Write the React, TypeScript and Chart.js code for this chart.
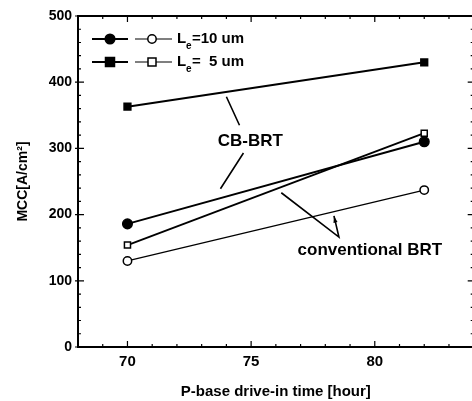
import React, { useEffect, useRef } from "react";
import { Chart, registerables } from "chart.js";

Chart.register(...registerables);

const driveTime = [70, 82];
const cbL10 = [186, 310];
const convL10 = [130, 237];
const cbL5 = [363, 430];
const convL5 = [154, 323];
const xTickValues = [70, 75, 80];
const xTickLabels = ["70", "75", "80"];
const yTickValues = [0, 100, 200, 300, 400, 500];
const yTickLabels = ["0", "100", "200", "300", "400", "500"];
const legendTexts = ["=10 um", "=  5 um"];
const annotationTexts = ["CB-BRT", "conventional BRT"];

const FONT = "'Liberation Sans', Arial, Helvetica, sans-serif";

const pts = (ys: number[]) => driveTime.map((x, i) => ({ x, y: ys[i] }));

const decorPlugin = {
  id: "decor",
  afterDraw(chart: any) {
    const ctx = chart.ctx;
    const { left, right, top, bottom } = chart.chartArea;
    const xs = chart.scales.x;
    const ys = chart.scales.y;
    const X = (v: number) => xs.getPixelForValue(v);
    const Y = (v: number) => ys.getPixelForValue(v);
    ctx.save();
    ctx.strokeStyle = "#000";
    ctx.fillStyle = "#000";
    // frame
    ctx.lineWidth = 2;
    ctx.strokeRect(left, top, right - left, bottom - top);
    // ticks
    ctx.lineWidth = 1.2;
    ctx.beginPath();
    for (let v = 68; v <= 84; v += 1) {
      const px = X(v);
      const major = v % 5 === 0;
      const len = major ? 6 : 3;
      ctx.moveTo(px, bottom);
      ctx.lineTo(px, bottom - len);
      ctx.moveTo(px, top);
      ctx.lineTo(px, top + len);
    }
    for (let v = 0; v <= 500; v += 20) {
      const py = Y(v);
      const major = v % 100 === 0;
      if (major) {
        ctx.moveTo(left - 3, py);
        ctx.lineTo(left + 6, py);
        ctx.moveTo(right, py);
        ctx.lineTo(right - 6, py);
      } else {
        ctx.moveTo(left, py);
        ctx.lineTo(left + 3, py);
        ctx.moveTo(right, py);
        ctx.lineTo(right - 3, py);
      }
    }
    ctx.stroke();

    // legend
    const rows = [
      { y: top + 23, filledShape: "circle" },
      { y: top + 46, filledShape: "square" },
    ];
    rows.forEach((r, i) => {
      const x0 = left + 14;
      ctx.lineWidth = 2;
      ctx.beginPath();
      ctx.moveTo(x0, r.y);
      ctx.lineTo(x0 + 36, r.y);
      ctx.stroke();
      drawMarker(ctx, r.filledShape, x0 + 18, r.y, true);
      const x1 = x0 + 43;
      ctx.lineWidth = 1.2;
      ctx.beginPath();
      ctx.moveTo(x1, r.y);
      ctx.lineTo(x1 + 37, r.y);
      ctx.stroke();
      drawMarker(ctx, r.filledShape, x1 + 17, r.y, false);
      ctx.fillStyle = "#000";
      ctx.textBaseline = "middle";
      ctx.textAlign = "left";
      ctx.font = `bold 15px ${FONT}`;
      const tx = x1 + 42;
      ctx.fillText("L", tx, r.y);
      ctx.font = `bold 10px ${FONT}`;
      ctx.fillText("e", tx + 9, r.y + 7);
      ctx.font = `bold 15px ${FONT}`;
      ctx.fillText(legendTexts[i], tx + 15, r.y);
    });

    // annotations
    ctx.font = `bold 17px ${FONT}`;
    ctx.textAlign = "center";
    ctx.textBaseline = "middle";
    ctx.fillText(annotationTexts[0], X(74.97), Y(311));
    ctx.fillText(annotationTexts[1], X(79.8), Y(146.5));
    ctx.lineWidth = 1.6;
    ctx.beginPath();
    ctx.moveTo(X(74.0), Y(378));
    ctx.lineTo(X(74.53), Y(335));
    ctx.moveTo(X(74.69), Y(293));
    ctx.lineTo(X(73.76), Y(239));
    ctx.moveTo(X(76.22), Y(233));
    ctx.lineTo(X(78.55), Y(166));
    ctx.lineTo(X(78.35), Y(198));
    ctx.stroke();
    const tipX = X(78.35), tipY = Y(198);
    const bx = X(78.55), by = Y(166);
    const ang = Math.atan2(tipY - by, tipX - bx);
    ctx.beginPath();
    ctx.moveTo(tipX, tipY);
    ctx.lineTo(tipX - 7 * Math.cos(ang - 0.3), tipY - 7 * Math.sin(ang - 0.3));
    ctx.lineTo(tipX - 7 * Math.cos(ang + 0.3), tipY - 7 * Math.sin(ang + 0.3));
    ctx.closePath();
    ctx.fill();
    ctx.restore();
  },
};

function drawMarker(ctx: CanvasRenderingContext2D, shape: string, x: number, y: number, filled: boolean) {
  ctx.save();
  ctx.lineWidth = 1.5;
  ctx.strokeStyle = "#000";
  ctx.fillStyle = filled ? "#000" : "#fff";
  ctx.beginPath();
  if (shape === "circle") {
    ctx.arc(x, y, filled ? 4.8 : 4.2, 0, Math.PI * 2);
  } else {
    const s = filled ? 4.5 : 4;
    ctx.rect(x - s, y - s, 2 * s, 2 * s);
  }
  ctx.fill();
  ctx.stroke();
  ctx.restore();
}

export default function App() {
  const ref = useRef<HTMLCanvasElement>(null);
  useEffect(() => {
    if (!ref.current) return;
    const ds = (label: string, ys: number[], style: string, filled: boolean, lw: number, r: number) => ({
      label,
      data: pts(ys),
      borderColor: "#000",
      backgroundColor: filled ? "#000" : "#fff",
      pointBackgroundColor: filled ? "#000" : "#fff",
      pointBorderColor: "#000",
      pointBorderWidth: 1.5,
      pointStyle: style,
      pointRadius: r,
      borderWidth: lw,
      showLine: true,
      fill: false,
    });
    const chart = new Chart(ref.current, {
      type: "line",
      data: {
        datasets: [
          ds("CB-BRT Le=10 um", cbL10, "circle", true, 2, 4.8),
          ds("conventional BRT Le=10 um", convL10, "circle", false, 1.2, 4.2),
          ds("CB-BRT Le=5 um", cbL5, "rect", true, 2, 4.8),
          ds("conventional BRT Le=5 um", convL5, "rect", false, 1.8, 4.3),
        ],
      },
      options: {
        animation: false,
        responsive: false,
        devicePixelRatio: 1,
        layout: { padding: { left: 15, top: 16, right: 4, bottom: 0 } },
        plugins: { legend: { display: false }, tooltip: { enabled: false } },
        scales: {
          x: {
            type: "linear",
            min: 68,
            max: 84,
            afterBuildTicks: (s: any) => {
              s.ticks = xTickValues.map((v) => ({ value: v }));
            },
            afterFit: (s: any) => {
              s.height = 54;
            },
            ticks: {
              padding: 6,
              color: "#000",
              font: { family: FONT, size: 15, weight: "bold" },
              callback: (v: any) => {
                const i = xTickValues.indexOf(Number(v));
                return i >= 0 ? xTickLabels[i] : "";
              },
            },
            grid: { display: false, drawTicks: false },
            border: { display: false },
            title: {
              display: true,
              text: "P-base drive-in time [hour]",
              color: "#000",
              padding: 0,
              font: { family: FONT, size: 15, weight: "bold" },
            },
          },
          y: {
            type: "linear",
            min: 0,
            max: 500,
            afterBuildTicks: (s: any) => {
              s.ticks = yTickValues.map((v) => ({ value: v }));
            },
            afterFit: (s: any) => {
              s.width = 63;
            },
            ticks: {
              padding: 6,
              color: "#000",
              font: { family: FONT, size: 14, weight: "bold" },
              callback: (v: any) => {
                const i = yTickValues.indexOf(Number(v));
                return i >= 0 ? yTickLabels[i] : "";
              },
            },
            grid: { display: false, drawTicks: false },
            border: { display: false },
            title: {
              display: true,
              text: "MCC[A/cm²]",
              color: "#000",
              padding: 0,
              font: { family: FONT, size: 14, weight: "bold" },
            },
          },
        },
      },
      plugins: [decorPlugin],
    } as any);
    return () => chart.destroy();
  }, []);
  return (
    <div style={{ position: "absolute", left: 0, top: 0, width: 472, height: 401, overflow: "hidden", background: "#fff" }}>
      <canvas ref={ref} width={480} height={401} style={{ width: 480, height: 401, display: "block" }} />
    </div>
  );
}
